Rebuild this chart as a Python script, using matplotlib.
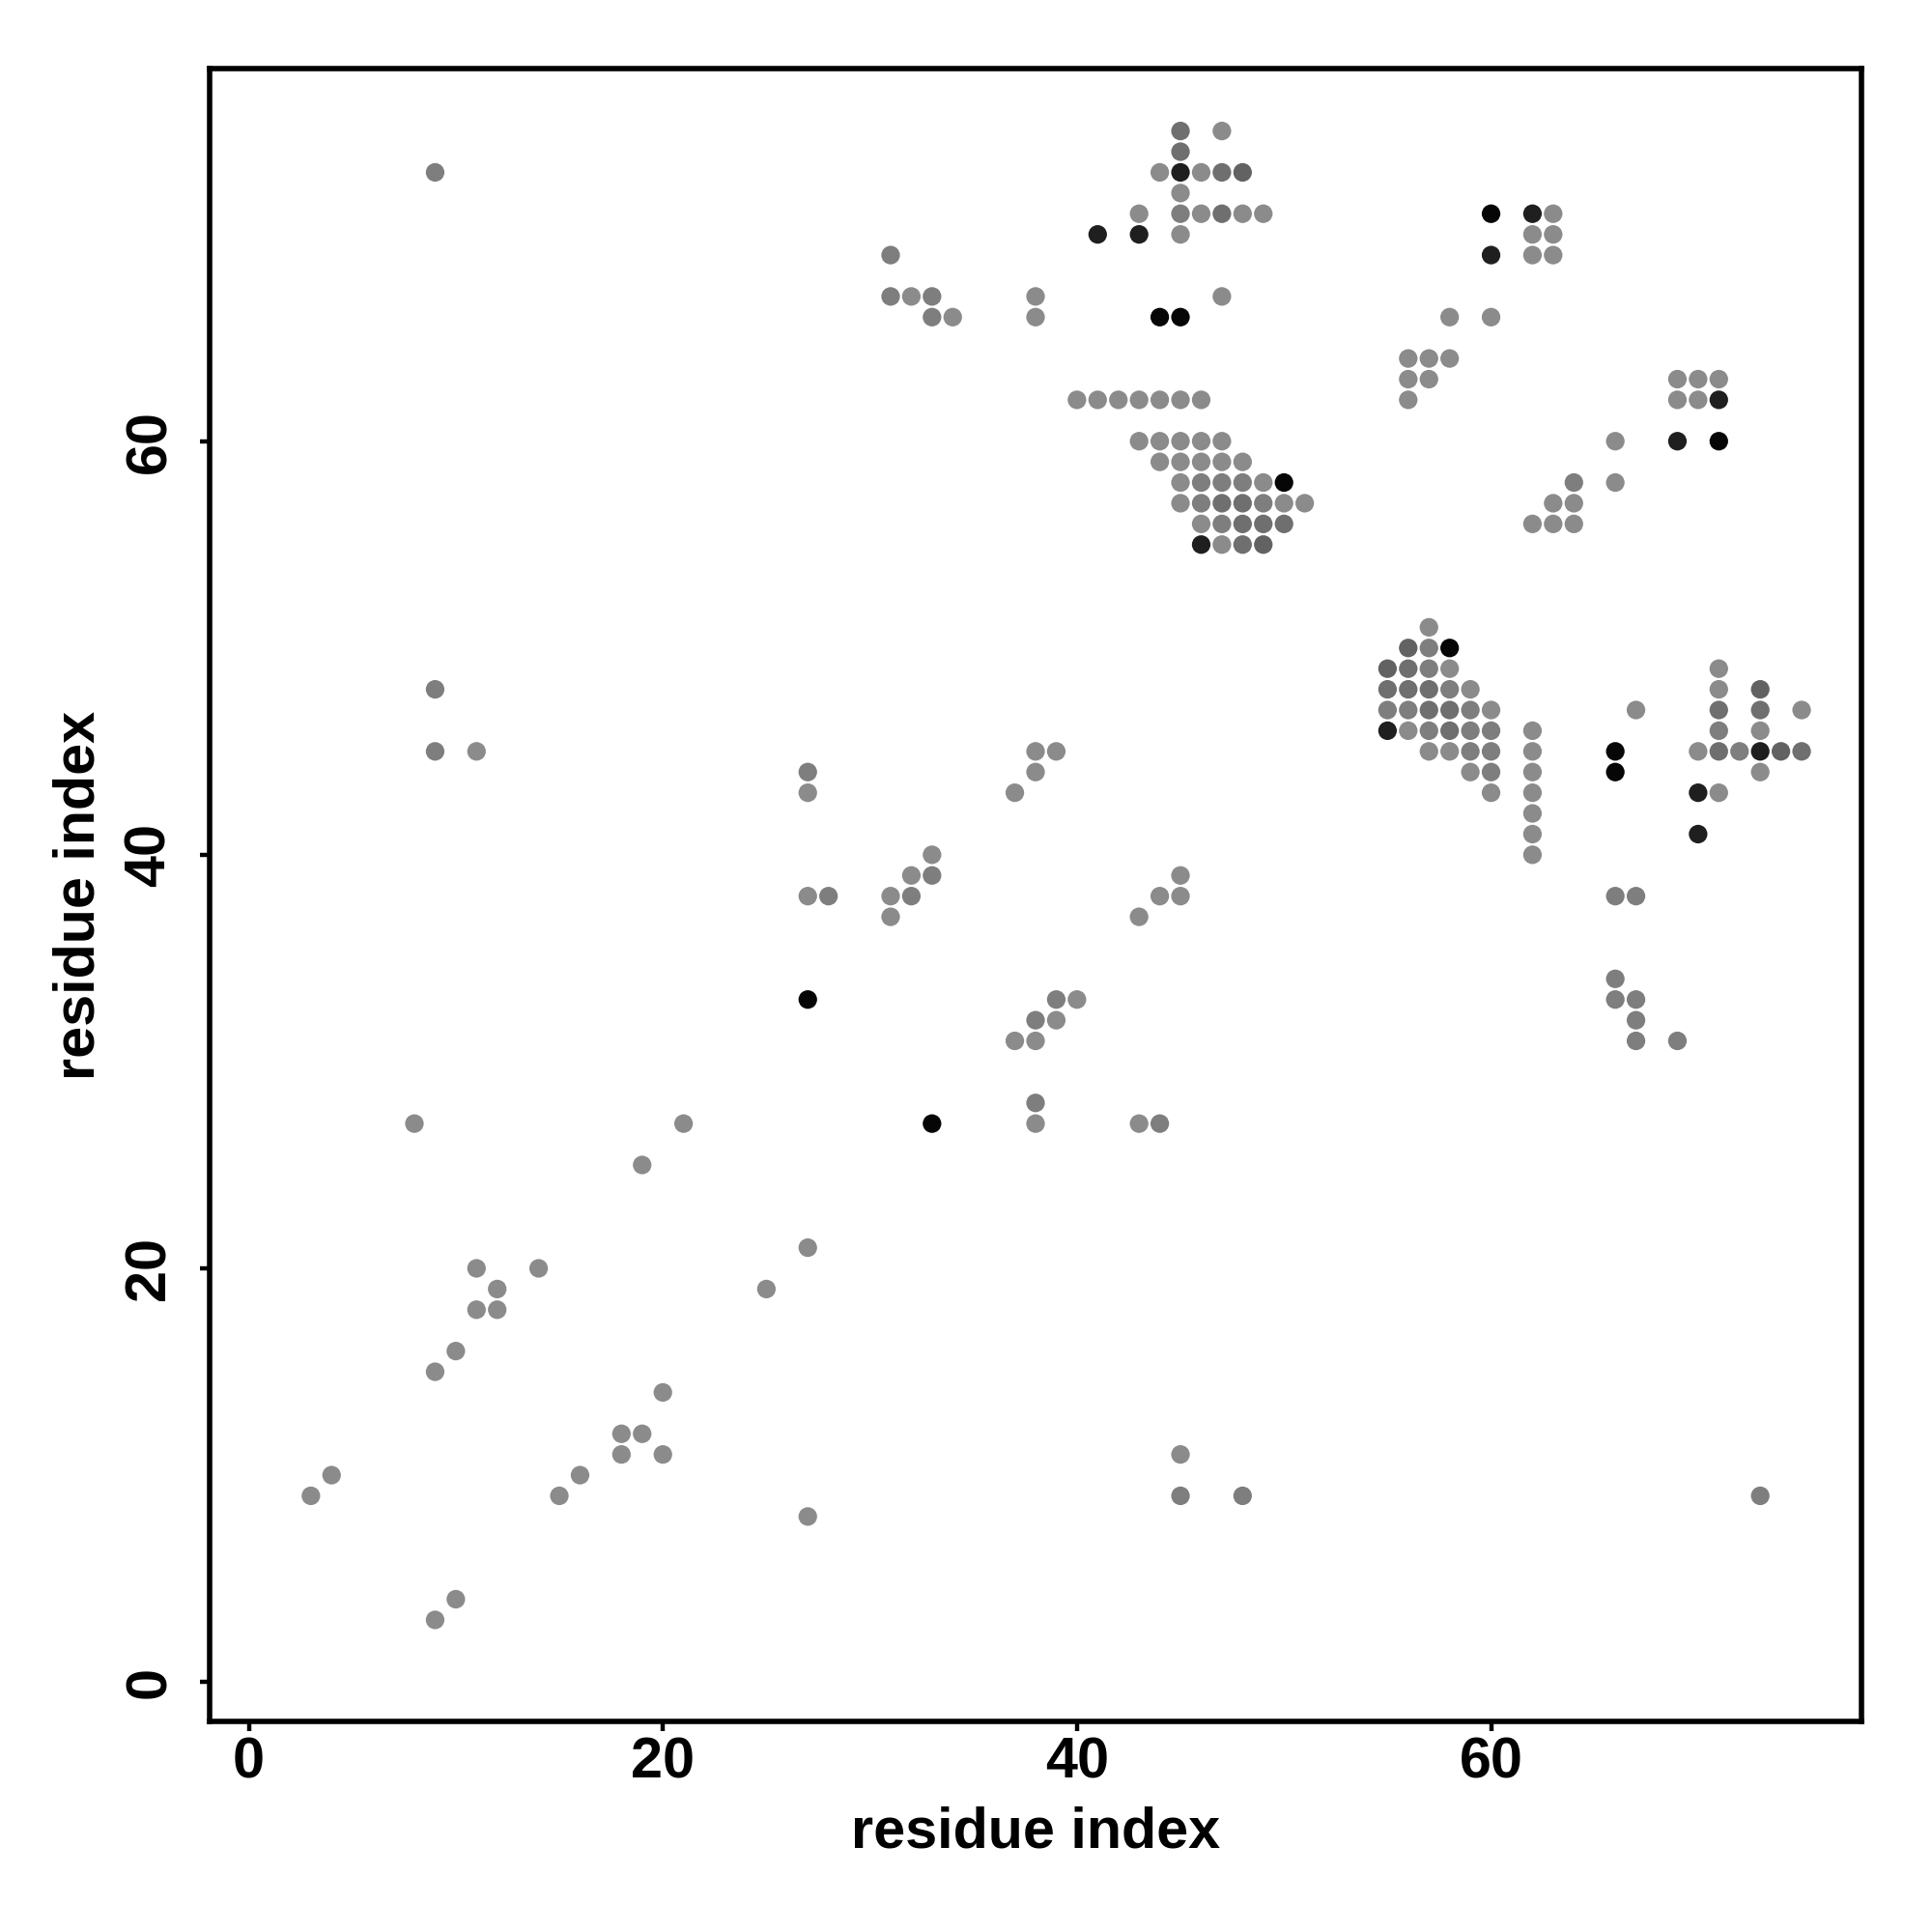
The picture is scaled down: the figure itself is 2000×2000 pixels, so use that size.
import numpy as np
import matplotlib
matplotlib.use("Agg")
import matplotlib.pyplot as plt
from matplotlib.colors import LinearSegmentedColormap, Normalize

plt.rcParams['font.family'] = ['Liberation Sans', 'DejaVu Sans']

# contact scores per gray class
score_levels = {"L": 0.10, "M": 0.18, "D": 0.28, "DD": 0.36, "K1": 0.80, "K": 0.96}

# light gray contacts
L_i = [8, 19, 21, 11, 14, 12, 11, 12, 10, 9, 20, 18, 19, 18, 20, 16, 15, 4, 3, 10, 9, 25, 27, 27,
       11, 27, 27,
       38, 39, 38, 37, 33, 32, 31, 31, 45, 44, 45, 43, 40, 39, 37, 38, 38, 43,
       45, 32, 34, 38, 38,
       47, 44, 46, 45, 43, 46, 48, 49, 45, 47,
       40, 41, 42, 43, 44, 45, 46, 43, 44, 45, 46, 47, 44, 45, 46, 47, 48,
       45, 49, 45, 50, 51, 46, 47,
       63, 62, 63, 62, 63, 58, 60, 56, 57, 58, 56, 57, 69, 70, 71, 56, 69, 70, 66, 66, 63, 64, 62, 63, 64,
       57, 58, 71, 59, 71, 60, 67, 75, 56, 62, 73, 57, 58, 62, 70, 59, 62, 73, 60, 62, 71, 62, 62, 62]
L_j = [27, 25, 27, 20, 20, 19, 18, 18, 16, 15, 14, 12, 12, 11, 11, 10, 9, 10, 9, 4, 3, 19, 21, 8,
       45, 43, 38,
       45, 45, 44, 43, 40, 39, 38, 37, 39, 38, 38, 37, 33, 32, 31, 31, 27, 27,
       11, 67, 66, 67, 66,
       75, 73, 73, 72, 71, 71, 71, 71, 70, 67,
       62, 62, 62, 62, 62, 62, 62, 60, 60, 60, 60, 60, 59, 59, 59, 59, 59,
       58, 58, 57, 57, 57, 56, 55,
       71, 70, 70, 69, 69, 66, 66, 64, 64, 64, 63, 63, 63, 63, 63, 62, 62, 62, 60, 58, 57, 57, 56, 56, 56,
       51, 49, 49, 48, 48, 47, 47, 47, 46, 46, 46, 45, 45, 45, 45, 44, 44, 44, 43, 43, 43, 42, 41, 40]

# medium gray contacts
M_i = [9, 9, 9, 27, 28, 33, 32, 39, 38, 38, 44, 45, 48, 73, 31, 31, 33, 33,
       66, 67, 66, 66, 67, 67, 67, 69, 64,
       45, 46, 47, 48, 46, 49, 47,
       57, 57, 58, 55, 56, 59, 57, 59, 60, 59, 60, 72, 60, 71]
M_j = [73, 48, 45, 44, 38, 39, 38, 33, 32, 28, 27, 9, 9, 9, 69, 67, 67, 66,
       38, 38, 34, 33, 33, 32, 31, 31, 58,
       71, 58, 58, 58, 57, 57, 56,
       50, 49, 48, 47, 47, 47, 46, 46, 46, 45, 45, 45, 44, 46]

# darker gray contacts
D_i = [45, 45, 47, 47, 47, 48, 48, 49, 50, 48,
       56, 55, 56, 57, 57, 58, 71, 73, 58, 71, 75]
D_j = [75, 74, 73, 71, 57, 57, 56, 56, 56, 55,
       49, 48, 48, 48, 47, 47, 47, 47, 46, 45, 45]

# dark gray contacts
DD_i = [48, 49, 56, 55, 73, 74]
DD_j = [73, 55, 50, 49, 48, 45]

# near-black contacts
K1_i = [45, 41, 43, 46, 62, 60, 71, 69, 55, 73, 70, 70]
K1_j = [73, 70, 70, 55, 71, 69, 62, 60, 46, 45, 43, 41]

# black contacts
K_i = [44, 45, 50, 60, 71, 58, 66, 66, 27, 33]
K_j = [66, 66, 58, 71, 60, 50, 45, 44, 33, 27]

ticks = [0, 20, 40, 60]
axis_label = "residue index"

groups = [("L", L_i, L_j), ("M", M_i, M_j), ("D", D_i, D_j),
          ("DD", DD_i, DD_j), ("K1", K1_i, K1_j), ("K", K_i, K_j)]

cmap = LinearSegmentedColormap.from_list("contact", ["#9a9a9a", "#000000"])
norm = Normalize(0, 1)

fig = plt.figure(figsize=(10, 10), dpi=200)
ax = fig.add_axes([0.1084, 0.1091, 0.8552, 0.8552])

for key, xi, yj in groups:
    sc = np.full(len(xi), score_levels[key])
    ax.scatter(xi, yj, c=sc, cmap=cmap, norm=norm, s=48, linewidths=0, zorder=3)

ax.set_xlim(-1.9, 77.9)
ax.set_ylim(-1.9, 78.0)
ax.set_xticks(ticks)
ax.set_yticks(ticks)

for sp in ax.spines.values():
    sp.set_linewidth(2.0)
    sp.set_color("black")

ax.tick_params(axis="both", direction="out", length=3.6, width=1.6, labelsize=21.4)
ax.tick_params(axis="x", pad=2.2)
ax.tick_params(axis="y", pad=8.6)
for lab in ax.get_xticklabels():
    lab.set_fontweight("bold")
for lab in ax.get_yticklabels():
    lab.set_fontweight("bold")
    lab.set_rotation(90)
    lab.set_va("center")

ax.set_xlabel(axis_label, fontsize=21.4, fontweight="bold", labelpad=5.8)
ax.set_ylabel(axis_label, fontsize=21.4, fontweight="bold", labelpad=6.5)

fig.savefig("out.png", dpi=200, facecolor="white")
